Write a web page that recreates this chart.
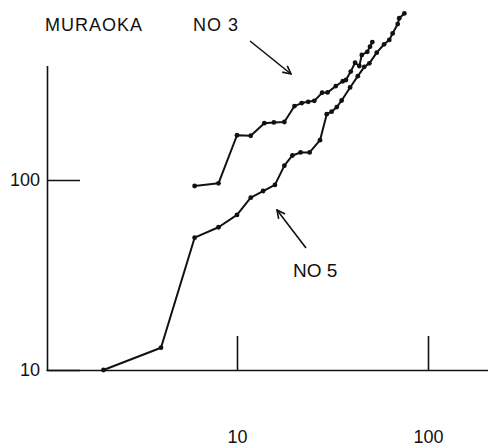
<!DOCTYPE html>
<html>
<head>
<meta charset="utf-8">
<script src="https://cdn.jsdelivr.net/npm/d3@7"></script>
<style>
  body { margin: 0; background: #fff; }
  svg text { font-family: "Liberation Sans", Arial, sans-serif; fill: #111; }
</style>
</head>
<body>
<script>
// series values (x, y both log)
const no3X = [6, 8, 10, 11.8, 13.9, 15.6, 17.7, 20, 21.8, 23.6, 25.4, 27.9, 29.8, 32.9, 35.8, 37.2, 39.4, 41.5, 43.7, 45, 48.1, 49.7, 51.1];
const no3Y = [93, 96, 172, 171, 199, 201, 202, 245, 254, 258, 261, 288, 289, 312, 331, 336, 372, 414, 398, 455, 473, 503, 532];

const no5X = [2, 4, 6, 8, 10, 11.8, 13.7, 15.8, 17.7, 19.5, 21.5, 24, 27.2, 29.5, 31.3, 33.3, 35.3, 39.1, 42.9, 46.4, 49.3, 53.9, 58.9, 62.7, 65.3, 69.4, 70.7, 75.2];
const no5Y = [10, 13.1, 49.7, 56.4, 65.5, 80.7, 87.5, 94.2, 119, 134.6, 139.6, 139.6, 162, 222, 229, 242, 262, 307, 352, 394, 411, 468, 518, 546, 591, 662, 710, 753];

// tick values
const xTicks = [10, 100];
const yTicks = [10, 100];

const width = 488;
const height = 448;

const svg = d3
  .select("body")
  .append("svg")
  .attr("width", width)
  .attr("height", height);

// one decade is about 191px across and 190px up
const xScale = d3
  .scaleLog()
  .domain([1, 210])
  .range([46, 46 + 191 * Math.log10(210)]);

const yScale = d3
  .scaleLog()
  .domain([10, 400])
  .range([370, 370 - 190 * Math.log10(40)]);

// axes
const xAxis = d3
  .axisBottom(xScale)
  .tickValues(xTicks)
  .tickFormat(d3.format("d"))
  .tickSizeInner(-34)
  .tickSizeOuter(0)
  .tickPadding(60);

const yAxis = d3
  .axisLeft(yScale)
  .tickValues(yTicks)
  .tickFormat(d3.format("d"))
  .tickSizeInner(-33)
  .tickSizeOuter(0)
  .tickPadding(7);

const gx = svg
  .append("g")
  .attr("transform", "translate(0,370)")
  .call(xAxis);

const gy = svg
  .append("g")
  .attr("transform", "translate(47,0)")
  .call(yAxis);

[gx, gy].forEach(function (g) {
  g.selectAll("path, line").attr("stroke", "#111").attr("stroke-width", 1.6);
  g.selectAll("text")
    .attr("font-size", 18)
    .attr("font-family", "Liberation Sans, Arial, sans-serif")
    .attr("fill", "#111");
});

// draw both series
const line = d3
  .line()
  .x((d) => xScale(d[0]))
  .y((d) => yScale(d[1]));

const series = [
  d3.zip(no3X, no3Y),
  d3.zip(no5X, no5Y),
];

series.forEach(function (pts) {
  svg
    .append("path")
    .datum(pts)
    .attr("d", line)
    .attr("fill", "none")
    .attr("stroke", "#111")
    .attr("stroke-width", 2)
    .attr("stroke-linejoin", "round");

  svg
    .append("g")
    .selectAll("circle")
    .data(pts)
    .enter()
    .append("circle")
    .attr("cx", (d) => xScale(d[0]))
    .attr("cy", (d) => yScale(d[1]))
    .attr("r", 2.4)
    .attr("fill", "#111");
});

// arrow head
svg
  .append("defs")
  .append("marker")
  .attr("id", "head")
  .attr("viewBox", "0 0 10 10")
  .attr("refX", 9)
  .attr("refY", 5)
  .attr("markerWidth", 10)
  .attr("markerHeight", 10)
  .attr("markerUnits", "userSpaceOnUse")
  .attr("orient", "auto")
  .append("path")
  .attr("d", "M1,1 L9,5 L1,9")
  .attr("fill", "none")
  .attr("stroke", "#111")
  .attr("stroke-width", 1.6);

// labels and arrows
svg
  .append("text")
  .attr("x", 45)
  .attr("y", 31)
  .attr("font-size", 18)
  .attr("letter-spacing", 1)
  .text("MURAOKA");

svg
  .append("text")
  .attr("x", 193)
  .attr("y", 31)
  .attr("font-size", 18)
  .attr("letter-spacing", 1)
  .text("NO 3");

svg
  .append("line")
  .attr("x1", 250)
  .attr("y1", 41)
  .attr("x2", 291)
  .attr("y2", 74)
  .attr("stroke", "#111")
  .attr("stroke-width", 1.6)
  .attr("marker-end", "url(#head)");

svg
  .append("text")
  .attr("x", 293)
  .attr("y", 277)
  .attr("font-size", 19)
  .text("NO 5");

svg
  .append("line")
  .attr("x1", 306)
  .attr("y1", 248)
  .attr("x2", 277)
  .attr("y2", 210)
  .attr("stroke", "#111")
  .attr("stroke-width", 1.6)
  .attr("marker-end", "url(#head)");
</script>
</body>
</html>
